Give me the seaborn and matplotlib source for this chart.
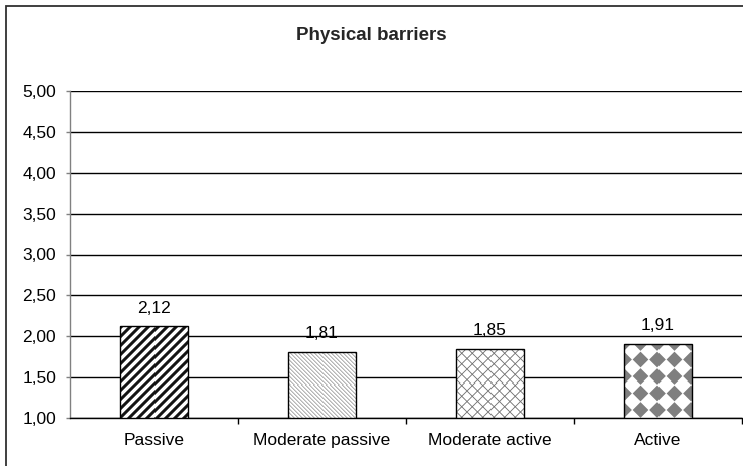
import numpy as np
import pandas as pd
import matplotlib
matplotlib.use("Agg")
import matplotlib.pyplot as plt
from matplotlib.patches import Rectangle
import seaborn as sns

# Chart data
categories = ["Passive", "Moderate passive", "Moderate active", "Active"]
scores = [2.12, 1.81, 1.85, 1.91]
y_ticks = [1.00, 1.50, 2.00, 2.50, 3.00, 3.50, 4.00, 4.50, 5.00]
title = "Physical barriers"

sns.set_theme(style="white")
plt.rcParams["font.family"] = ["Liberation Sans", "DejaVu Sans"]

W, H, DPI = 743, 466, 100
fig = plt.figure(figsize=(W / DPI, H / DPI), dpi=DPI)
fig.patch.set_facecolor("white")

# Chart-area frame
fig.add_artist(Rectangle((6 / W, -0.05), 1.2, 1 - 6 / H + 0.05, transform=fig.transFigure,
                         fill=False, edgecolor="#303030", lw=1.3, zorder=0))

ax = fig.add_axes([70 / W, 1 - 418 / H, (742 - 70) / W, (418 - 91) / H])

df = pd.DataFrame({"category": categories, "score": scores})
sns.barplot(data=df, x="category", y="score", order=categories, width=0.405,
            color="white", edgecolor="black", linewidth=1.0, ax=ax)

ax.set_ylim(1.0, 5.0)
ax.set_yticks(y_ticks)
ax.set_yticklabels([f"{t:.2f}".replace(".", ",") for t in y_ticks])
ax.set_xlim(-0.5, len(categories) - 0.5)
ax.set_xlabel("")
ax.set_ylabel("")
ax.set_xticks(range(len(categories)))
ax.set_xticklabels(categories)

# Boundary ticks between categories on the x-axis
ax.set_xticks([i + 0.5 for i in range(len(categories))], minor=True)
ax.tick_params(axis="x", which="major", length=0, pad=11, labelsize=12.5, colors="black")
ax.tick_params(axis="x", which="minor", length=4, width=1, color="black", direction="out", bottom=True)
ax.tick_params(axis="y", length=3, width=1, color="#808080", direction="out", pad=7,
               labelsize=12.5, labelcolor="black", left=True)

ax.yaxis.grid(True, color="black", lw=1.0)
ax.xaxis.grid(False)
ax.set_axisbelow(True)
for side in ["top", "right"]:
    ax.spines[side].set_visible(False)
ax.spines["left"].set_color("#808080")
ax.spines["left"].set_linewidth(1.0)
ax.spines["bottom"].set_color("black")
ax.spines["bottom"].set_linewidth(1.0)

fig.text(0.5, 1 - 35 / H, title, ha="center", va="center", fontsize=13.5, fontweight="bold")


# Fill patterns, drawn in screen pixels and clipped to each bar
def texture(kind, w, h, ss=4):
    xs = (np.arange(w * ss) + 0.5) / ss
    ys = (np.arange(h * ss) + 0.5) / ss
    X, Y = np.meshgrid(xs, ys)
    if kind == "stripes":
        P = 9.0
        ink = (((X + Y) % P) < 4.2).astype(float)
        col = np.array([0.08, 0.08, 0.08])
    elif kind == "thin":
        P = 4.0
        ink = (((X - Y) % P) < 1.0).astype(float)
        col = np.array([0.55, 0.55, 0.55])
    elif kind == "cross":
        P = 10.5
        a = ((X + Y) % P) < 1.2
        b = ((X - Y) % P) < 1.2
        ink = (a | b).astype(float)
        col = np.array([0.45, 0.45, 0.45])
    else:
        P = 16.5
        dx = np.abs(((X - P / 2) % P) - P / 2)
        dy = np.abs(((Y - P / 2) % P) - P / 2)
        ink = ((dx + dy) < 0.47 * P).astype(float)
        col = np.array([0.5, 0.5, 0.5])
    ink = ink.reshape(h, ss, w, ss).mean(axis=(1, 3))
    img = np.ones((h, w, 3)) * (1 - ink[..., None]) + col * ink[..., None]
    return img


kinds = ["stripes", "thin", "cross", "diamonds"]
bars = list(ax.patches)
for bar, kind, val in zip(bars, kinds, scores):
    x0 = bar.get_x()
    x1 = x0 + bar.get_width()
    y0, y1 = 1.0, val
    p0 = ax.transData.transform((x0, y0))
    p1 = ax.transData.transform((x1, y1))
    w = max(int(round(p1[0] - p0[0])), 1)
    h = max(int(round(p1[1] - p0[1])), 1)
    im = ax.imshow(texture(kind, w, h), extent=(x0, x1, y0, y1), origin="upper",
                   interpolation="nearest", aspect="auto", zorder=2.5)
    im.set_clip_path(bar)
    bar.set_facecolor("none")
    bar.set_zorder(3)
    ax.annotate(f"{val:.2f}".replace(".", ","), (bar.get_x() + bar.get_width() / 2, val),
                xytext=(0, 18), textcoords="offset pixels", ha="center", va="center",
                fontsize=12.5, color="black")

ax.set_xlim(-0.5, len(categories) - 0.5)
ax.set_ylim(1.0, 5.0)

fig.savefig("out.png", dpi=DPI, facecolor="white")
